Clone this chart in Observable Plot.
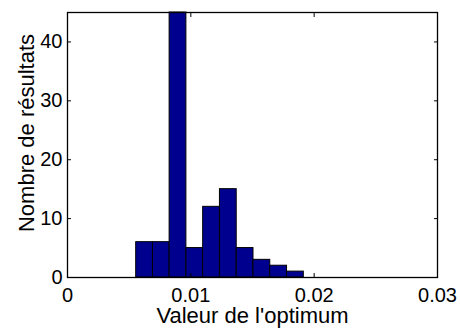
<!DOCTYPE html>
<html>
<head>
<meta charset="utf-8">
<script src="https://cdn.jsdelivr.net/npm/d3@7"></script>
<script src="https://cdn.jsdelivr.net/npm/@observablehq/plot@0.6"></script>
<style>
  html, body { margin: 0; padding: 0; background: white; }
</style>
</head>
<body>
<div id="chart"></div>
<script>
// Histogram bin edges and counts
const binEdges = [0.00557, 0.00693, 0.00828, 0.00964, 0.01100, 0.01236, 0.01372, 0.01508, 0.01644, 0.01780, 0.01916];
const counts = [6, 6, 45, 5, 12, 15, 5, 3, 2, 1];
const xTicks = [0, 0.01, 0.02, 0.03];
const yTicks = [0, 10, 20, 30, 40];
const xLabel = "Valeur de l'optimum";
const yLabel = "Nombre de résultats";

const bins = counts.map((c, i) => ({x1: binEdges[i], x2: binEdges[i + 1], count: c}));
const font = "'Liberation Sans', Arial, Helvetica, sans-serif";

const chart = Plot.plot({
  width: 460,
  height: 330,
  marginLeft: 67,
  marginRight: 23,
  marginTop: 12,
  marginBottom: 53,
  style: {fontFamily: font, fontSize: "20px", color: "black", background: "white", overflow: "visible"},
  x: {domain: [0, 0.03]},
  y: {domain: [0, 45]},
  marks: [
    Plot.rectY(bins, {x1: "x1", x2: "x2", y: "count", fill: "#00008F", stroke: "black", strokeWidth: 1}),
    Plot.frame({stroke: "black", strokeWidth: 1.3}),
    // labels
    Plot.axisX({anchor: "bottom", ticks: xTicks, tickSize: 0, tickPadding: 10, tickFormat: d => String(d), fontSize: 20, label: null, stroke: "none"}),
    Plot.axisY({anchor: "left", ticks: yTicks, tickSize: 0, tickPadding: 5, tickFormat: d => String(d), fontSize: 20, label: null, stroke: "none"}),
    // inward ticks on all four sides
    Plot.axisX({anchor: "bottom", ticks: xTicks, tickSize: 4, dy: -4, fill: "none", label: null, stroke: "black"}),
    Plot.axisX({anchor: "top", ticks: xTicks, tickSize: 4, dy: 4, fill: "none", label: null, stroke: "black"}),
    Plot.axisY({anchor: "left", ticks: yTicks, tickSize: 4, dx: 4, fill: "none", label: null, stroke: "black"}),
    Plot.axisY({anchor: "right", ticks: yTicks, tickSize: 4, dx: -4, fill: "none", label: null, stroke: "black"}),
    // axis titles
    Plot.text([xLabel], {text: d => d, frameAnchor: "bottom", textAnchor: "middle", lineAnchor: "bottom", dy: 45, fontSize: 22, fill: "black"}),
    Plot.text([yLabel], {text: d => d, frameAnchor: "left", textAnchor: "middle", lineAnchor: "bottom", rotate: -90, dx: -34, dy: -12, fontSize: 22, fill: "black"})
  ]
});
document.getElementById("chart").appendChild(chart);
</script>
</body>
</html>
